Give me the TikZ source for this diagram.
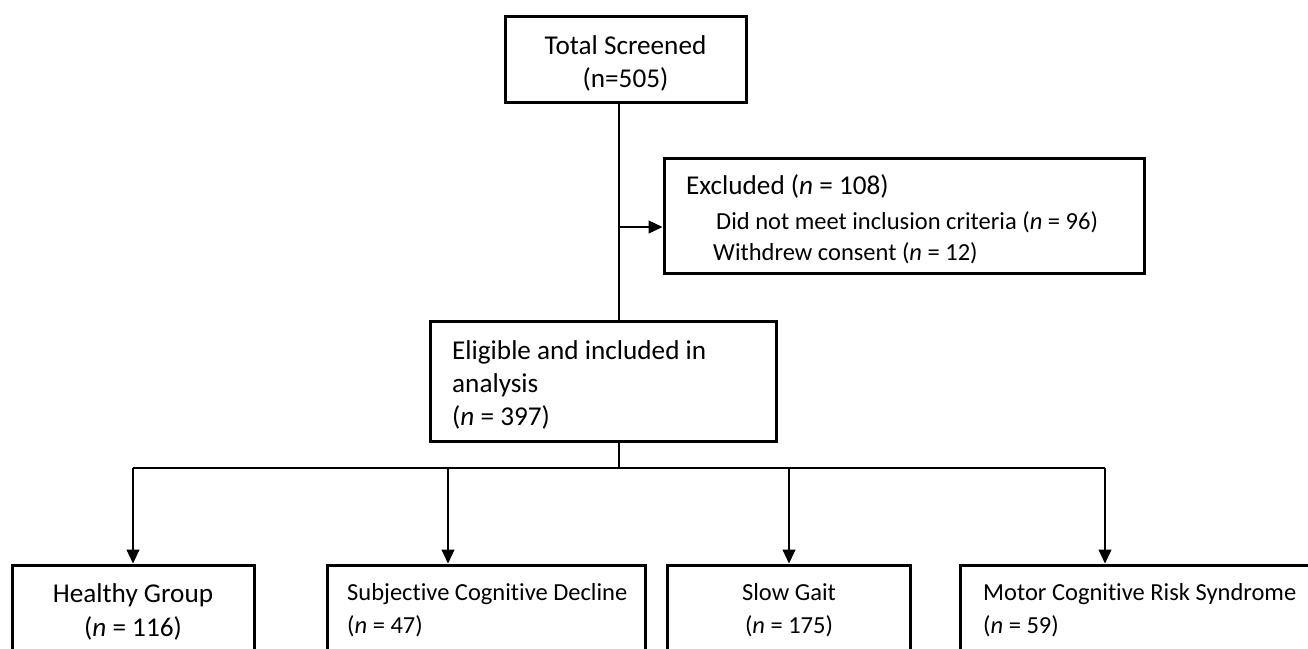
\documentclass[tikz,border=0pt]{standalone}
\usepackage{fontspec}
\setmainfont[Ligatures=NoCommon]{Carlito}
\usetikzlibrary{arrows.meta}
\begin{document}
\begin{tikzpicture}[x=1pt,y=-1pt,
  box/.style={draw, line width=3pt, inner sep=0pt},
  big/.style={font=\fontsize{27.2}{32}\selectfont, inner sep=0pt},
  small/.style={font=\fontsize{24.5}{29}\selectfont, inner sep=0pt},
  conn/.style={line width=1.1pt},
  arr/.style={line width=1.1pt, -{Triangle[length=14pt,width=13pt]}}]
\useasboundingbox (0,0) rectangle (1308,648);
\clip (0,0) rectangle (1308,648);
\fill[white] (0,0) rectangle (1308,648);
% boxes
\node[box, minimum width=241pt, minimum height=86pt] (total) at (625.5,59) {};
\node[box, minimum width=480pt, minimum height=115pt] (excl) at (904,215.5) {};
\node[box, minimum width=346pt, minimum height=120pt] (elig) at (603,381) {};
\node[box, minimum width=242pt, minimum height=135pt] (healthy) at (133,632.5) {};
\node[box, minimum width=318pt, minimum height=135pt] (scd) at (486,632.5) {};
\node[box, minimum width=243pt, minimum height=135pt] (slow) at (788.5,632.5) {};
\node[box, minimum width=370pt, minimum height=135pt] (mcr) at (1145,632.5) {};
% texts
\node[big, anchor=base] (t1) at (625.5,54) {Total Screened};
\node[big, anchor=base] (t2) at (625.5,87) {(n=505)};
\node[big, anchor=base west] (e1) at (686,194) {Excluded (\textit{n} = 108)};
\node[small, anchor=base west] (e2) at (716,229) {Did not meet inclusion criteria (\textit{n} = 96)};
\node[small, anchor=base west] (e3) at (713,260) {Withdrew consent (\textit{n} = 12)};
\node[big, anchor=base west] (g1) at (452,359) {Eligible and included in};
\node[big, anchor=base west] (g2) at (452,392) {analysis};
\node[big, anchor=base west] (g3) at (452,425) {(\textit{n} = 397)};
\node[big, anchor=base] (h1) at (133,602) {Healthy Group};
\node[big, anchor=base] (h2) at (133,636) {(\textit{n} = 116)};
\node[small, anchor=base west] (s1) at (347,600) {Subjective Cognitive Decline};
\node[small, anchor=base west] (s2) at (347,633) {(\textit{n} = 47)};
\node[small, anchor=base] (w1) at (789,600) {Slow Gait};
\node[small, anchor=base] (w2) at (789,633) {(\textit{n} = 175)};
\node[small, anchor=base west] (m1) at (983,600) {Motor Cognitive Risk Syndrome};
\node[small, anchor=base west] (m2) at (983,633) {(\textit{n} = 59)};
% connectors
\coordinate (j1) at (619,227);
\coordinate (hub) at (619,468);
\coordinate (a1) at (133,468);
\coordinate (a2) at (448,468);
\coordinate (a3) at (789,468);
\coordinate (a4) at (1105,468);
\draw[conn] (total.south -| j1) -- (elig.north -| j1);
\draw[arr] (j1) -- (excl.west |- j1);
\draw[conn] (elig.south -| hub) -- (hub);
\draw[conn] (a1) -- (a4);
\draw[arr] (a1) -- (healthy.north -| a1);
\draw[arr] (a2) -- (scd.north -| a2);
\draw[arr] (a3) -- (slow.north -| a3);
\draw[arr] (a4) -- (mcr.north -| a4);
\end{tikzpicture}
\end{document}
